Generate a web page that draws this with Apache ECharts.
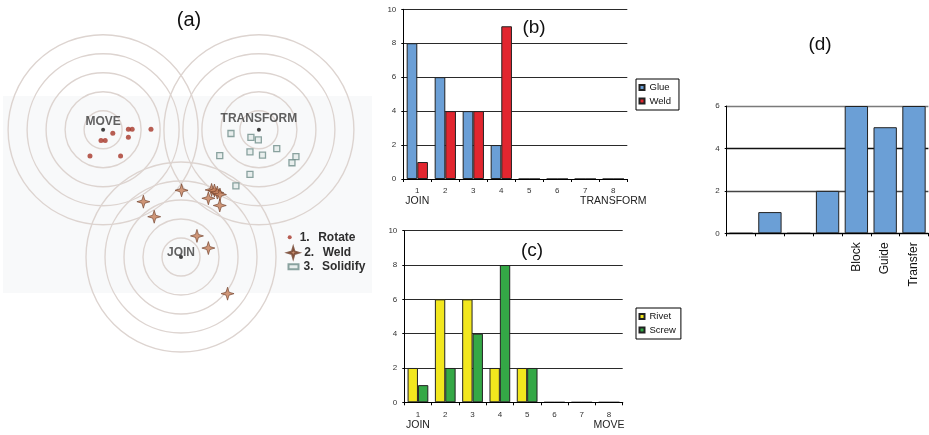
<!DOCTYPE html>
<html><head><meta charset="utf-8">
<script src="https://cdn.jsdelivr.net/npm/echarts@6/dist/echarts.min.js"></script>
<style>html,body{margin:0;padding:0;background:#fff}#c{width:929px;height:435px}</style>
</head><body><div id="c"></div>
<script>
// ---------- Panel (a): positions in ring units (1 unit = one ring step), origin at JOIN centre
const ringCenterNames = ['MOVE', 'TRANSFORM', 'JOIN'];
const ringCenters = [[-4.1, 6.7], [4.1, 6.7], [0, 0]];
const ringRadii = [1, 2, 3, 4, 5];
const rotatePts = [[-3.59, 6.51], [-2.77, 6.72], [-2.57, 6.72], [-2.77, 6.30], [-1.58, 6.72],
  [-4.21, 6.13], [-3.99, 6.13], [-4.79, 5.32], [-3.18, 5.32]];
const weldPts = [[0.03, 3.51], [-1.98, 2.91], [-1.41, 2.12], [1.44, 3.09], [1.61, 3.53],
  [1.76, 3.50], [1.91, 3.39], [2.05, 3.29], [2.04, 2.71], [0.84, 1.11], [1.44, 0.47], [2.45, -1.93]];
const solidifyPts = [[2.63, 6.50], [3.68, 6.30], [4.07, 6.16], [3.63, 5.53], [4.29, 5.36],
  [5.04, 5.70], [2.04, 5.34], [6.05, 5.28], [5.84, 4.96], [3.63, 4.35], [2.89, 3.74]];
const legendA = ['1.  Rotate', '2.  Weld', '3.  Solidify'];

// ---------- Panel (b)
const bCategories = ['1', '2', '3', '4', '5', '6', '7', '8'];
const bEnds = ['JOIN', 'TRANSFORM'];
const glue = [8, 6, 4, 2, 0, 0, 0, 0];
const weldB = [1, 4, 4, 9, 0, 0, 0, 0];

// ---------- Panel (c)
const cCategories = ['1', '2', '3', '4', '5', '6', '7', '8'];
const cEnds = ['JOIN', 'MOVE'];
const rivet = [2, 6, 6, 2, 2, 0, 0, 0];
const screw = [1, 2, 4, 8, 2, 0, 0, 0];

// ---------- Panel (d)
const dCategories = ['', '', '', '', 'Block', 'Guide', 'Transfer'];
const dValues = [0, 1, 0, 2, 6, 5, 6];

const FONT = 'Liberation Sans, Arial, sans-serif';
const chart = echarts.init(document.getElementById('c'));

const starPath = 'path://M0,-10 L2.3,-2.3 L10,0 L2.3,2.3 L0,10 L-2.3,2.3 L-10,0 L-2.3,-2.3 Z';
const centerLabelOffset = {MOVE: [0, -8], TRANSFORM: [0, -11], JOIN: [0, -4]};

const ringData = [];
ringCenters.forEach(c => ringRadii.forEach(r => ringData.push([c[0], c[1], r])));

function catLabel(ends, n) {
  return function (v, i) {
    if (i === 0) return '{n|' + v + '}\n{t|' + ends[0] + '}';
    if (i === n - 1) return '{n|' + v + '}\n{t|' + ends[1] + '}';
    return '{n|' + v + '}';
  };
}
const catRich = {
  n: {fontSize: 8, lineHeight: 10, color: '#333', fontFamily: FONT},
  t: {fontSize: 10.5, lineHeight: 11, color: '#222', fontFamily: FONT}
};
function valAxis(gi, max) {
  return {
    type: 'value', gridIndex: gi, min: 0, max: max, interval: 2,
    axisLine: {show: true, lineStyle: {color: '#000', width: 1}},
    axisTick: {show: true, length: 2, lineStyle: {color: '#000'}},
    axisLabel: {fontSize: 8, color: '#333', margin: 7, fontFamily: FONT},
    splitLine: {show: true, lineStyle: {color: '#2a2a2a', width: 1.2}}
  };
}
function catAxis(gi, data, fmt) {
  return {
    type: 'category', gridIndex: gi, data: data, z: 5,
    axisLine: {show: true, lineStyle: {color: '#000', width: 1.2}},
    axisTick: {show: true, length: 3, alignWithLabel: false, lineStyle: {color: '#000'}},
    axisLabel: {interval: 0, margin: 7, formatter: fmt, rich: catRich}
  };
}
const barStyle = c => ({color: c, borderColor: '#222', borderWidth: 1});

const legendTextA = {
  fontSize: 12, fontWeight: 'bold', color: '#2e2e2e', fontFamily: FONT,
  rich: {a: {width: 18.5, fontSize: 12, fontWeight: 'bold', color: '#2e2e2e', fontFamily: FONT},
         b: {fontSize: 12, fontWeight: 'bold', color: '#2e2e2e', fontFamily: FONT}}
};
const legendFmtA = name => {
  const parts = name.split(/\s+/);
  return '{a|' + parts[0] + '}{b|' + parts[1] + '}';
};

const option = {
  animation: false,
  textStyle: {fontFamily: FONT},
  graphic: [{type: 'rect', z: -10, silent: true, shape: {x: 3, y: 96, width: 369, height: 197},
    style: {fill: '#f8f9fa'}}],
  title: [
    {text: '(a)', left: 189, top: 10, textAlign: 'center', padding: 0,
      textStyle: {fontSize: 20, fontWeight: 'normal', color: '#111', fontFamily: FONT}},
    {text: '(b)', left: 534, top: 18.5, textAlign: 'center', padding: 0,
      textStyle: {fontSize: 19, fontWeight: 'normal', color: '#111', fontFamily: FONT}},
    {text: '(c)', left: 532, top: 241.5, textAlign: 'center', padding: 0,
      textStyle: {fontSize: 19, fontWeight: 'normal', color: '#111', fontFamily: FONT}},
    {text: '(d)', left: 820, top: 35.5, textAlign: 'center', padding: 0,
      textStyle: {fontSize: 19, fontWeight: 'normal', color: '#111', fontFamily: FONT}}
  ],
  legend: [
    {data: [{name: legendA[0], icon: 'circle'}], left: 287.7, top: 231.3, padding: 0, itemWidth: 10, itemHeight: 4,
      selectedMode: false, formatter: legendFmtA, textStyle: legendTextA},
    {data: [{name: legendA[1], icon: starPath}], left: 286.7, top: 246.3, padding: 0, itemWidth: 12, itemHeight: 11,
      selectedMode: false, formatter: legendFmtA, textStyle: legendTextA},
    {data: [{name: legendA[2], icon: 'rect'}], left: 287.5, top: 260.7, padding: 0, itemWidth: 10, itemHeight: 5,
      selectedMode: false, formatter: legendFmtA, textStyle: legendTextA},
    {data: ['Glue', 'Weld'], orient: 'vertical', left: 636, top: 79, padding: [3.5, 8, 4, 2.5],
      itemWidth: 5, itemHeight: 5, itemGap: 3.5, icon: 'rect', selectedMode: false,
      borderColor: '#000', borderWidth: 1, backgroundColor: '#fff',
      textStyle: {fontSize: 9.5, color: '#111', fontFamily: FONT}},
    {data: ['Rivet', 'Screw'], orient: 'vertical', left: 636, top: 308, padding: [3.5, 5, 4, 2.5],
      itemWidth: 5, itemHeight: 5, itemGap: 3.5, icon: 'rect', selectedMode: false,
      borderColor: '#000', borderWidth: 1, backgroundColor: '#fff',
      textStyle: {fontSize: 9.5, color: '#111', fontFamily: FONT}}
  ],
  grid: [
    {left: 10, top: 10, width: 342, height: 361},
    {left: 403.3, top: 9.3, width: 224, height: 169.7},
    {left: 404.3, top: 230.7, width: 218.4, height: 171.6},
    {left: 726.7, top: 106, width: 201.7, height: 127.3}
  ],
  xAxis: [
    {type: 'value', gridIndex: 0, min: -9, max: 9, show: false},
    catAxis(1, bCategories, catLabel(bEnds, bCategories.length)),
    catAxis(2, cCategories, catLabel(cEnds, cCategories.length)),
    {type: 'category', gridIndex: 3, data: dCategories, z: 5,
      axisLine: {show: true, lineStyle: {color: '#000', width: 1.2}},
      axisTick: {show: true, length: 3, lineStyle: {color: '#000'}},
      axisLabel: {interval: 0, rotate: 90, margin: 9, fontSize: 12, color: '#111', fontFamily: FONT}}
  ],
  yAxis: [
    {type: 'value', gridIndex: 0, min: -6, max: 13, show: false},
    valAxis(1, 10),
    valAxis(2, 10),
    Object.assign(valAxis(3, 6), {splitLine: {show: true, lineStyle: {color: ['#222', '#444', '#111', '#7a7a7a'], width: 1.3}}})
  ],
  series: [
    {type: 'custom', xAxisIndex: 0, yAxisIndex: 0, data: ringData, silent: true, z: 1, clip: false,
      renderItem: function (params, api) {
        const c = api.coord([api.value(0), api.value(1)]);
        const s = api.size([api.value(2), api.value(2)]);
        return {type: 'circle', shape: {cx: c[0], cy: c[1], r: s[0]},
          style: {fill: 'none', stroke: '#ddd4d0', lineWidth: 1.4}};
      }},
    {type: 'scatter', name: 'centres', xAxisIndex: 0, yAxisIndex: 0, symbol: 'circle', symbolSize: 4, z: 3,
      itemStyle: {color: '#111'},
      data: ringCenters.map((c, i) => ({name: ringCenterNames[i], value: c,
        label: {show: true, position: 'inside', offset: centerLabelOffset[ringCenterNames[i]],
          formatter: '{b}', fontSize: 12, fontWeight: 'bold', color: '#3a3a3a', fontFamily: FONT}}))},
    {type: 'scatter', name: legendA[0], xAxisIndex: 0, yAxisIndex: 0, symbol: 'circle', symbolSize: 5, z: 4,
      itemStyle: {color: '#a63628'}, data: rotatePts},
    {type: 'scatter', name: legendA[1], xAxisIndex: 0, yAxisIndex: 0, symbol: starPath, symbolSize: 13, z: 4,
      itemStyle: {color: '#c47d58', borderColor: '#6e3d28', borderWidth: 0.8}, data: weldPts},
    {type: 'scatter', name: legendA[2], xAxisIndex: 0, yAxisIndex: 0, symbol: 'rect', symbolSize: 6, z: 4,
      itemStyle: {color: '#e4ebea', borderColor: '#6f8d8a', borderWidth: 1.3}, data: solidifyPts},
    {type: 'bar', name: 'Glue', xAxisIndex: 1, yAxisIndex: 1, data: glue, barGap: '0%', barCategoryGap: '24%',
      itemStyle: barStyle('#6b9fd6')},
    {type: 'bar', name: 'Weld', xAxisIndex: 1, yAxisIndex: 1, data: weldB, barGap: '0%', barCategoryGap: '24%',
      itemStyle: barStyle('#e2262f')},
    {type: 'bar', name: 'Rivet', xAxisIndex: 2, yAxisIndex: 2, data: rivet, barGap: '0%', barCategoryGap: '24%',
      itemStyle: barStyle('#f2e71e')},
    {type: 'bar', name: 'Screw', xAxisIndex: 2, yAxisIndex: 2, data: screw, barGap: '0%', barCategoryGap: '24%',
      itemStyle: barStyle('#34a846')},
    {type: 'bar', name: 'd', xAxisIndex: 3, yAxisIndex: 3, data: dValues, barCategoryGap: '19%',
      itemStyle: barStyle('#6b9fd6')}
  ]
};
chart.setOption(option);
</script>
</body></html>
